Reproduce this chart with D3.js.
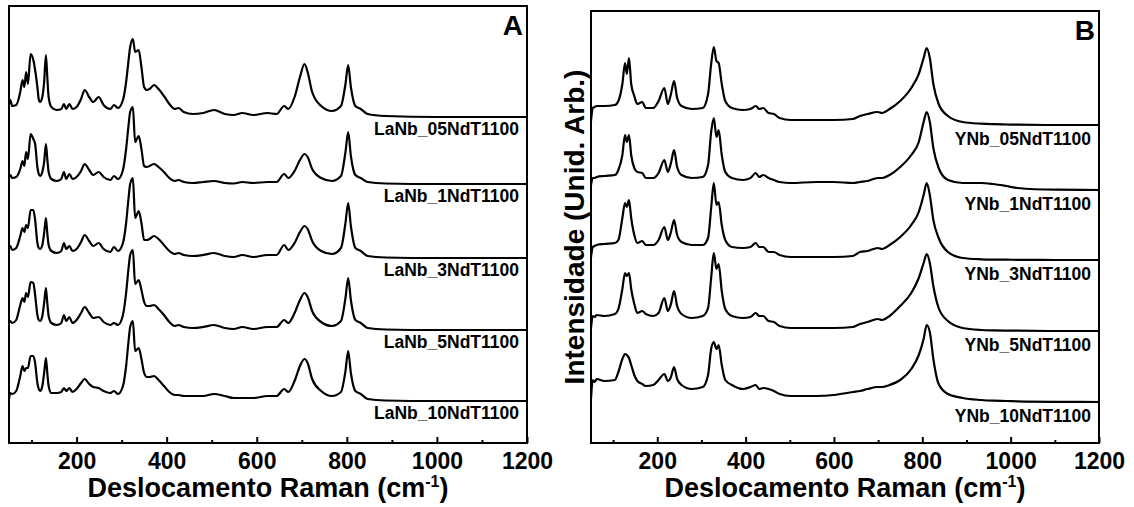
<!DOCTYPE html>
<html>
<head>
<meta charset="utf-8">
<script src="https://cdn.jsdelivr.net/npm/d3@7"></script>
<style>
  html, body { margin: 0; padding: 0; background: #fff; }
  svg { display: block; }
  text { font-family: "Liberation Sans", Arial, Helvetica, sans-serif; font-weight: bold; fill: #000; }
</style>
</head>
<body>
<svg id="chart" width="1134" height="507"></svg>
<script>
// Raman shift grid (cm-1) for the LaNbO4-based samples
const shiftA = [50,53,57,66,75,80,84,88,92,98,104,108,113,116,119,124,128,132,135,138,144,156,166,172,177,184,191,200,210,218,228,237,249,260,275,283,292,303,310,315,319,325,330,338,344,350,356,362,372,382,394,406,418,426,438,458,481,505,529,549,568,592,624,644,661,670,684,696,706,713,723,743,767,787,797,803,809,819,831,846,886,1000,1200];

const laNb05 = [13,17,11,12,25,37,30,45,33,63,57,47,30,18,15,20,35,62,40,20,10,7,8,13,8,13,8,10,18,27,20,15,20,12,8,12,9,17,35,55,70,78,65,67,50,30,27,28,32,28,21,13,8,9,5,3,4,7,3,2,4,2,4,3,11,8,20,40,53,45,25,11,6,11,33,52,30,11,8,3,1,0,0];
const laNb1  = [7,9,6,7,15,23,18,32,25,50,45,40,17,10,8,12,22,40,25,12,5,3,5,12,5,10,5,7,13,20,14,9,12,7,4,8,5,14,35,57,72,77,42,48,35,18,17,18,20,17,12,6,3,4,2,1,2,3,1,0.5,2,1,2,2,10,6,13,24,30,27,15,6,3,8,32,52,28,9,6,2,0.5,0,0];
const laNb3  = [10,12,8,10,22,30,26,33,30,48,48,38,15,10,9,13,25,40,25,13,7,5,7,15,9,12,7,9,16,23,17,12,15,9,6,11,7,15,35,58,74,80,40,47,35,18,18,19,22,19,13,7,4,5,3,2,3,5,2,1,3,1,3,3,13,8,15,26,32,29,17,7,4,10,35,55,32,10,7,2,0.5,0,0];
const laNb5  = [7,9,7,10,25,32,28,37,33,48,47,35,15,10,9,14,27,42,27,14,7,5,7,15,9,13,7,10,17,23,17,12,13,8,5,7,5,15,37,60,75,80,46,50,40,28,24,24,25,21,15,8,4,5,3,2,3,5,2,1,3,1,3,3,10,7,17,30,37,33,19,8,4,9,32,52,30,10,7,2,0.5,0,0];
const laNb10 = [2,8,7,10,25,35,30,33,33,45,45,38,18,12,10,15,28,43,28,15,8,8,9,13,10,13,9,12,18,22,17,14,13,10,8,10,7,15,35,58,74,80,50,53,42,28,24,24,25,21,15,9,6,6,5,5,5,7,5,3,3,3,5,5,12,9,20,35,42,38,22,10,5,9,30,50,28,10,7,2,0.5,0,0];

// Raman shift grid (cm-1) for the YNbO4-based samples
const shiftB = [50,54,58,63,80,104,112,121,127,131,136,141,148,155,166,174,191,203,216,224,231,238,245,255,278,303,315,322,328,334,339,346,354,369,394,411,423,431,440,452,464,477,502,560,600,643,659,676,699,709,726,750,775,792,803,810,817,825,837,858,891,933,960,990,1016,1100,1200];

const yNb05 = [4,17,18,19,19,20,24,41,62,51,67,41,29,21,23,17,17,24,37,21,31,44,27,19,16,17,31,61,78,64,62,41,24,17,15,16,19,16,17,12,11,7,5,5,5,6,9,11,13,12,16,24,37,51,67,77,67,41,21,9,3,1.3,0.8,0.5,0.3,0,0];
const yNb1  = [5,12,12,13,14,15,20,35,55,48,55,35,22,18,17,12,12,17,30,18,27,40,23,15,12,13,25,58,72,53,60,35,18,12,10,12,17,13,15,12,10,8,7,8,8,7,8,9,12,12,15,23,35,48,68,78,68,42,22,10,7,7,6,4,2,0.3,0];
const yNb3  = [3,13,14,15,16,17,20,42,57,53,60,42,25,17,19,15,15,20,33,20,28,40,25,18,15,15,22,52,77,55,58,35,20,13,12,13,17,13,13,8,8,5,3,3,3,4,8,9,12,11,15,23,35,48,65,77,65,40,22,8,2,0.7,0.4,0.3,0.2,0,0];
const yNb5  = [3,15,14,16,15,17,22,42,58,55,58,42,27,18,20,17,15,18,33,20,27,40,25,17,13,15,23,53,78,62,67,40,22,15,13,14,18,15,15,10,9,5,3,3,3,4,7,9,12,11,15,25,38,53,68,77,68,45,23,10,3,1,0.6,0.4,0.3,0,0];
const yNb10 = [3,22,20,23,21,22,30,43,48,47,44,37,27,21,18,16,17,22,28,21,25,35,23,17,13,15,27,53,60,53,57,37,22,17,13,15,17,13,14,13,11,8,6,6,7,10,11,13,15,15,17,22,33,47,63,77,70,43,18,8,4,2,1.3,1,0.7,0.2,0];

// Sample names and vertical stacking offsets (a.u.)
const samplesA = ["LaNb_05NdT1100","LaNb_1NdT1100","LaNb_3NdT1100","LaNb_5NdT1100","LaNb_10NdT1100"];
const offsetsA = [326, 259, 185, 113, 42];
const samplesB = ["YNb_05NdT1100","YNb_1NdT1100","YNb_3NdT1100","YNb_5NdT1100","YNb_10NdT1100"];
const offsetsB = [318, 253, 183, 112, 41];

// Axis ticks
const majorTicks = [200, 400, 600, 800, 1000, 1200];
const minorTicks = [100, 300, 500, 700, 900, 1100];
const shiftDomain = [50, 1200];

const svg = d3.select("#chart");
svg.append("rect").attr("width", 1134).attr("height", 507).attr("fill", "#fff");

function drawPanel(cfg) {
  const x = d3.scaleLinear().domain(shiftDomain).range([cfg.left, cfg.right]);
  const y = d3.scaleLinear().domain([0, cfg.bottom - cfg.top]).range([cfg.bottom, cfg.top]);
  const g = svg.append("g");

  const clipId = "clip-" + cfg.letter;
  svg.append("clipPath").attr("id", clipId)
    .append("rect")
    .attr("x", cfg.left).attr("y", cfg.top)
    .attr("width", cfg.right - cfg.left).attr("height", cfg.bottom - cfg.top);

  const line = d3.line()
    .x(d => x(d[0]))
    .y(d => y(d[1]))
    .curve(d3.curveMonotoneX);

  const traces = g.append("g").attr("clip-path", `url(#${clipId})`);
  cfg.series.forEach((vals, i) => {
    const pts = cfg.shift.map((s, k) => [s, vals[k] + cfg.offsets[i]]);
    traces.append("path")
      .attr("d", line(pts))
      .attr("fill", "none")
      .attr("stroke", "#000")
      .attr("stroke-width", 2.2)
      .attr("stroke-linejoin", "round");
  });

  // sample names, right aligned under each trace
  cfg.names.forEach((name, i) => {
    g.append("text")
      .attr("x", cfg.right - 8)
      .attr("y", y(cfg.offsets[i]) + cfg.labelGap)
      .attr("text-anchor", "end")
      .attr("font-size", 17.5)
      .text(name);
  });

  // bottom axis, ticks pointing inward
  const axisMajor = d3.axisBottom(x).tickValues(majorTicks)
    .tickSize(-6).tickSizeOuter(0).tickPadding(10).tickFormat(d3.format("d"));
  const axisMinor = d3.axisBottom(x).tickValues(minorTicks)
    .tickSize(-3).tickSizeOuter(0).tickFormat("");
  const ga = g.append("g").attr("transform", `translate(0,${cfg.bottom})`).call(axisMajor);
  const gm = g.append("g").attr("transform", `translate(0,${cfg.bottom})`).call(axisMinor);
  [ga, gm].forEach(a => {
    a.select(".domain").remove();
    a.selectAll("line").attr("stroke", "#000").attr("stroke-width", 2);
  });
  ga.selectAll("text")
    .attr("font-size", 23)
    .attr("font-family", "'Liberation Sans', Arial, sans-serif")
    .attr("font-weight", "bold")
    .attr("fill", "#000");

  // frame
  g.append("rect")
    .attr("x", cfg.left).attr("y", cfg.top)
    .attr("width", cfg.right - cfg.left).attr("height", cfg.bottom - cfg.top)
    .attr("fill", "none").attr("stroke", "#000").attr("stroke-width", 2);

  // panel letter
  g.append("text")
    .attr("x", cfg.right - 4).attr("y", cfg.top + 29)
    .attr("text-anchor", "end").attr("font-size", 28)
    .text(cfg.letter);

  // x axis title
  const t = g.append("text")
    .attr("x", (cfg.left + cfg.right) / 2).attr("y", 497)
    .attr("text-anchor", "middle").attr("font-size", 27);
  t.append("tspan").text("Deslocamento Raman (cm");
  t.append("tspan").attr("dy", -10).attr("font-size", 16).text("-1");
  t.append("tspan").attr("dy", 10).text(")");
}

drawPanel({
  letter: "A", left: 9, right: 527, top: 6, bottom: 443, labelGap: 18,
  shift: shiftA, series: [laNb05, laNb1, laNb3, laNb5, laNb10],
  offsets: offsetsA, names: samplesA
});

drawPanel({
  letter: "B", left: 591, right: 1099, top: 11, bottom: 443, labelGap: 20,
  shift: shiftB, series: [yNb05, yNb1, yNb3, yNb5, yNb10],
  offsets: offsetsB, names: samplesB
});

// y axis title for the stacked intensities
svg.append("text")
  .attr("transform", "translate(584,227) rotate(-90)")
  .attr("text-anchor", "middle")
  .attr("font-size", 28)
  .text("Intensidade (Unid. Arb.)");
</script>
</body>
</html>
